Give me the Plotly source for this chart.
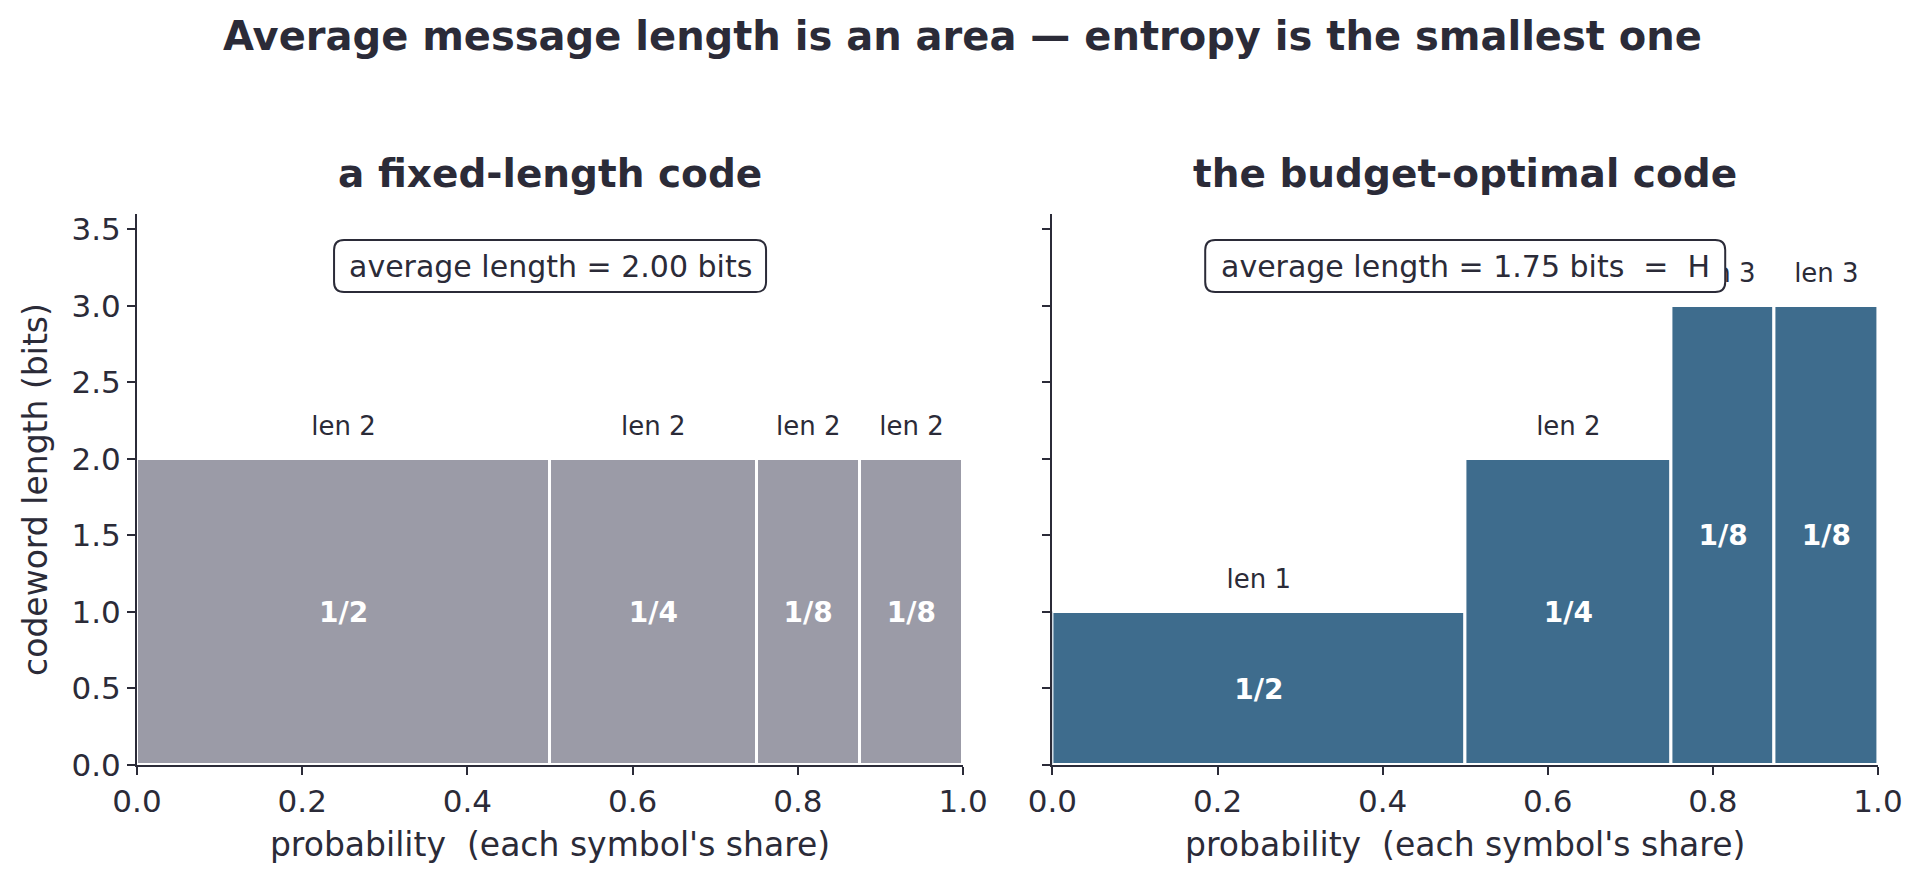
import plotly.graph_objects as go

# ---- data ----
symbol_probs = [0.5, 0.25, 0.125, 0.125]
prob_labels = ["1/2", "1/4", "1/8", "1/8"]
fixed_lengths = [2, 2, 2, 2]
optimal_lengths = [1, 2, 3, 3]
panel_titles = ["a fixed-length code", "the budget-optimal code"]
y_ticks = [0.0, 0.5, 1.0, 1.5, 2.0, 2.5, 3.0, 3.5]
x_ticks = [0.0, 0.2, 0.4, 0.6, 0.8, 1.0]

DARK = "#2b2b38"
GRAY = "#9b9ba7"
BLUE = "#3e6c8d"
FONT = "DejaVu Sans"

# cumulative positions
lefts = []
acc = 0.0
for p in symbol_probs:
    lefts.append(acc)
    acc += p
centers = [l + p / 2 for l, p in zip(lefts, symbol_probs)]

fig = go.Figure()

panels = [
    (fixed_lengths, GRAY, "x", "y"),
    (optimal_lengths, BLUE, "x2", "y2"),
]

for lengths, color, xa, ya in panels:
    fig.add_trace(go.Bar(
        x=centers, y=lengths, width=symbol_probs, base=0,
        marker=dict(color=color, line=dict(color="white", width=3)),
        xaxis=xa, yaxis=ya, showlegend=False, hoverinfo="skip",
    ))
    fig.add_trace(go.Scatter(
        x=centers, y=[h / 2 - 0.02 for h in lengths], mode="text", text=prob_labels,
        textfont=dict(family=FONT, size=28, color="white", weight="bold"),
        xaxis=xa, yaxis=ya, showlegend=False, hoverinfo="skip",
    ))
    fig.add_trace(go.Scatter(
        x=centers, y=[h + 0.2 for h in lengths], mode="text",
        text=[f"len {h}" for h in lengths],
        textfont=dict(family=FONT, size=26, color=DARK),
        xaxis=xa, yaxis=ya, showlegend=False, hoverinfo="skip",
    ))

# average lengths
avg_fixed = sum(p * l for p, l in zip(symbol_probs, fixed_lengths))
avg_opt = sum(p * l for p, l in zip(symbol_probs, optimal_lengths))
box_texts = [
    f"average length = {avg_fixed:.2f} bits",
    f"average length = {avg_opt:.2f} bits\u00a0\u00a0=\u00a0\u00a0H",
]
box_widths = [432, 520]
box_h = 52
r = 10
BOX_Y = 3.26
for i, (txt, bw) in enumerate(zip(box_texts, box_widths)):
    xr = "x domain" if i == 0 else "x2 domain"
    yr = "y" if i == 0 else "y2"
    w2, h2 = bw / 2, box_h / 2
    path = (f"M {-w2 + r},{-h2} L {w2 - r},{-h2} Q {w2},{-h2} {w2},{-h2 + r} "
            f"L {w2},{h2 - r} Q {w2},{h2} {w2 - r},{h2} L {-w2 + r},{h2} "
            f"Q {-w2},{h2} {-w2},{h2 - r} L {-w2},{-h2 + r} Q {-w2},{-h2} {-w2 + r},{-h2} Z")
    fig.add_shape(type="path", path=path, xref=xr, yref=yr,
                  xsizemode="pixel", ysizemode="pixel", xanchor=0.5, yanchor=BOX_Y,
                  fillcolor="white", line=dict(color=DARK, width=2), layer="above")
    fig.add_annotation(text=txt, xref=xr, yref=yr, x=0.5, y=BOX_Y,
                       showarrow=False, xanchor="center", yanchor="middle",
                       font=dict(family=FONT, size=30, color=DARK))
    fig.add_annotation(text=panel_titles[i], xref=xr, yref="y domain" if i == 0 else "y2 domain",
                       x=0.5, y=1, yshift=41, showarrow=False, xanchor="center", yanchor="middle",
                       font=dict(family=FONT, size=39, color=DARK, weight="bold"))

axis_common = dict(
    showline=True, linecolor=DARK, linewidth=2, ticks="outside", ticklen=8,
    tickwidth=2, tickcolor=DARK, showgrid=False, zeroline=False,
    tickfont=dict(family=FONT, size=31, color=DARK),
)

xtitle = "probability\u00a0\u00a0(each symbol's share)"
fig.update_layout(
    width=1925, height=883,
    paper_bgcolor="white", plot_bgcolor="white",
    margin=dict(l=137, r=47, t=214, b=118),
    bargap=0,
    title=dict(text="Average message length is an area \u2014 entropy is the smallest one",
               x=0.5, xanchor="center", y=1 - 36 / 883, yanchor="middle",
               font=dict(family=FONT, size=40, color=DARK, weight="bold")),
    xaxis=dict(domain=[0, 0.4745], range=[0, 1], tickvals=x_ticks, tickformat=".1f",
               title=dict(text=xtitle, font=dict(family=FONT, size=33, color=DARK), standoff=15),
               **axis_common),
    xaxis2=dict(domain=[0.5258, 1], range=[0, 1], tickvals=x_ticks, tickformat=".1f",
                title=dict(text=xtitle, font=dict(family=FONT, size=33, color=DARK), standoff=15),
                **axis_common),
    yaxis=dict(range=[0, 3.6], tickvals=y_ticks, tickformat=".1f",
               title=dict(text="codeword length (bits)", font=dict(family=FONT, size=33, color=DARK), standoff=14),
               **axis_common),
    yaxis2=dict(range=[0, 3.6], tickvals=y_ticks, tickformat=".1f", showticklabels=False,
                anchor="x2", **axis_common),
)
fig.update_layout(xaxis2=dict(anchor="y2"))

fig.write_html("out.html")
